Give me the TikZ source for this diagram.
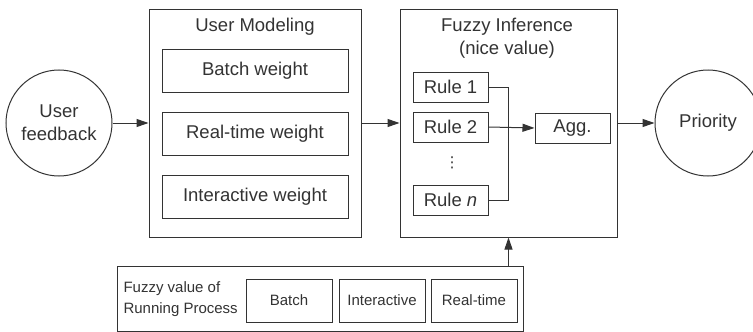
\documentclass[tikz,border=0pt]{standalone}
\usepackage{fontspec}
\setmainfont{Liberation Sans}
\newfontfamily\dotsfont{DejaVu Sans}
\usetikzlibrary{arrows.meta}
\begin{document}
\begin{tikzpicture}[
  x=1pt, y=-1pt,
  every node/.style={font=\fontsize{18.5}{23}\selectfont, text=black!80},
  small/.style={font=\fontsize{15}{21}\selectfont},
  box/.style={draw=black!80, line width=1pt, rectangle, inner sep=0pt},
  state/.style={draw=black!80, line width=1pt, circle, minimum size=106pt, align=center, inner sep=0pt},
  flow/.style={draw=black!80, line width=1pt, -{Triangle[length=12pt,width=8pt]}}
]
\useasboundingbox (0,0) rectangle (753,332);
% outer nodes
\node[state] (fb) at (59,123) {User\\feedback};
\node[state] (pr) at (708,123) {Priority};
% user modeling
\node[box, minimum width=212pt, minimum height=228pt] (um) at (255,123) {};
\node (umt) at (255,27) {User Modeling};
\node[box, minimum width=186pt, minimum height=43pt] (bw) at (255,70.5) {Batch weight};
\node[box, minimum width=186pt, minimum height=43pt] (rw) at (255,133.5) {Real-time weight};
\node[box, minimum width=186pt, minimum height=43pt] (iw) at (255,197) {Interactive weight};
% fuzzy inference
\node[box, minimum width=217pt, minimum height=228pt] (fi) at (508.5,123) {};
\node[align=center] (fit) at (507,38.5) {Fuzzy Inference\\(nice value)};
\node[box, minimum width=75pt, minimum height=30pt] (r1) at (450.5,87) {Rule 1};
\node[box, minimum width=75pt, minimum height=30pt] (r2) at (450.5,127) {Rule 2};
\node[font=\dotsfont\fontsize{15}{15}\selectfont] (dots) at (452,163) {⋮};
\node[box, minimum width=75pt, minimum height=30pt] (rn) at (450.5,200) {Rule \textit{n}};
\node[box, minimum width=75pt, minimum height=30pt] (agg) at (572.5,128) {Agg.};
\coordinate (j1) at (508,87);
\coordinate (jn) at (508,200);
% running process
\node[box, minimum width=406pt, minimum height=65pt] (rp) at (320,298.5) {};
\node[small, align=left, anchor=west] (rpt) at (120,299) {Fuzzy value of\\Running Process};
\node[small, box, minimum width=86pt, minimum height=43pt] (bt) at (289,300.5) {Batch};
\node[small, box, minimum width=86pt, minimum height=43pt] (ia) at (382,300.5) {Interactive};
\node[small, box, minimum width=86pt, minimum height=43pt] (rt) at (474,300.5) {Real-time};
% connectors
\draw[flow] (fb.east) -- (um.west);
\draw[flow] (um.east) -- (fi.west);
\draw[flow] (fi.east) -- (pr.west);
\draw[draw=black!80, line width=1pt] (r1.east) -- (j1) -- (jn) -- (rn.east);
\draw[flow] (r2.east) -- (agg.west);
\draw[flow] (fi.south |- rp.north) -- (fi.south);
\end{tikzpicture}
\end{document}
